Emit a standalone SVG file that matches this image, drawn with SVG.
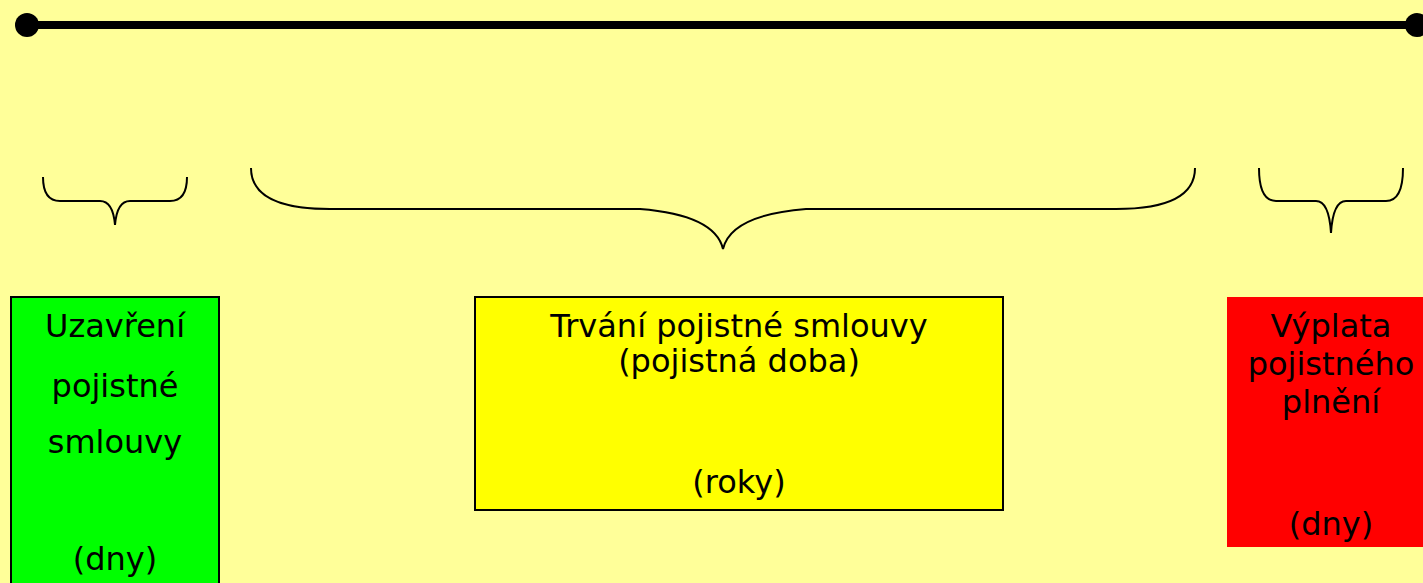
<svg xmlns="http://www.w3.org/2000/svg" width="1423" height="583" viewBox="0 0 1423 583">
  <style>
    .lbl { font-family: "DejaVu Sans", Verdana, sans-serif; font-size: 32px; fill: #000; text-anchor: middle; }
    .brace { fill: none; stroke: #000; stroke-width: 2; }
    .box { stroke: #000; stroke-width: 2; }
  </style>
  <rect x="0" y="0" width="1423" height="583" fill="#FFFF99"/>

  <!-- timeline axis -->
  <g id="timeline">
    <line x1="27" y1="25" x2="1417" y2="25" stroke="#000" stroke-width="8"/>
    <circle cx="27" cy="25" r="12" fill="#000"/>
    <circle cx="1417" cy="25" r="12" fill="#000"/>
  </g>

  <!-- curly braces grouping the phases -->
  <g id="connectors">
    <path class="brace" d="M43,177 Q43,201 60,201 L100,201 Q113,201 115,225 Q117,201 130,201 L170,201 Q187,201 187,177"/>
    <path class="brace" d="M251,168 Q251,209 330,209 L640,209 Q715,215 723,249 Q731,215 806,209 L1116,209 Q1195,209 1195,168"/>
    <path class="brace" d="M1259,168 Q1259,201 1276,201 L1316,201 Q1329,201 1331,233 Q1333,201 1346,201 L1386,201 Q1403,201 1403,168"/>
  </g>

  <g id="node-uzavreni">
    <rect class="box" x="11" y="297" width="208" height="300" fill="#00FF00"/>
    <text class="lbl" x="115" y="337">Uzavření</text>
    <text class="lbl" x="115" y="397">pojistné</text>
    <text class="lbl" x="115" y="453">smlouvy</text>
    <text class="lbl" x="115" y="570">(dny)</text>
  </g>

  <g id="node-trvani">
    <rect class="box" x="475" y="297" width="528" height="213" fill="#FFFF00"/>
    <text class="lbl" x="739" y="337">Trvání pojistné smlouvy</text>
    <text class="lbl" x="739" y="372">(pojistná doba)</text>
    <text class="lbl" x="739" y="493">(roky)</text>
  </g>

  <g id="node-vyplata">
    <rect x="1227" y="297" width="200" height="250" fill="#FF0000"/>
    <text class="lbl" x="1331" y="337">Výplata</text>
    <text class="lbl" x="1331" y="375">pojistného</text>
    <text class="lbl" x="1331" y="413">plnění</text>
    <text class="lbl" x="1331" y="535">(dny)</text>
  </g>
</svg>
